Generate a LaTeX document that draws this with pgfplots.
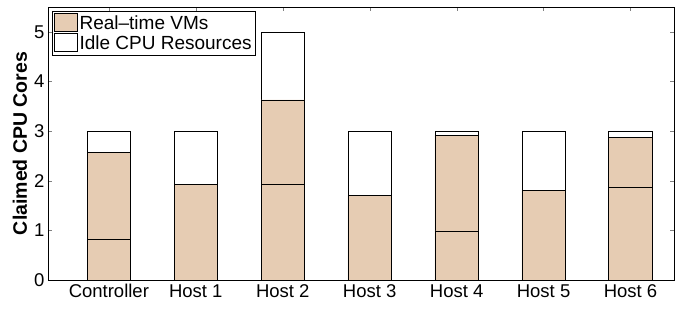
\documentclass[border=0pt]{standalone}
\usepackage{fontspec}
\setmainfont{Liberation Sans}
\usepackage{pgfplots}
\pgfplotsset{compat=1.18}
\definecolor{tan}{RGB}{230,204,179}
\begin{document}
\begin{tikzpicture}
\begin{axis}[
  scale only axis,
  width=626pt, height=273pt,
  anchor=south west, at={(0pt,0pt)},
  ybar stacked, bar width=0.5,
  xmin=0.3, xmax=7.5, ymin=0, ymax=5.5,
  xtick={1,2,3,4,5,6,7},
  xticklabels={Controller,Host 1,Host 2,Host 3,Host 4,Host 5,Host 6},
  ytick={0,1,2,3,4,5},
  tick align=inside, tick pos=both,
  major tick length=4pt,
  /pgf/number format/assume math mode=true,
  ticklabel style={font=\fontsize{18.5}{20}\selectfont},
  xticklabel style={yshift=-1pt},
  ylabel={\bfseries Claimed CPU Cores},
  ylabel style={font=\fontsize{19.5}{21}\selectfont, at={(axis description cs:-0.045,0.5)}, anchor=center},
  axis line style={line width=0.8pt},
  legend cell align=left,
  legend style={at={(0.006,0.985)}, anchor=north west, draw=black, line width=0.6pt,
    font=\fontsize{19}{21}\selectfont, inner sep=2pt, row sep=0pt,
    /tikz/every even column/.append style={column sep=2pt}},
  legend image code/.code={\draw[#1, line width=0.5pt] (0pt,-8pt) rectangle (23pt,10pt);},
]
\addplot[fill=tan, draw=black, line width=0.6pt] coordinates {(1,0.82) (2,1.92) (3,1.92) (4,1.70) (5,0.99) (6,1.81) (7,1.86)};
\addlegendentry{Real--time VMs}
\addplot[fill=tan, draw=black, line width=0.6pt, forget plot] coordinates {(1,1.75) (2,0) (3,1.71) (4,0) (5,1.93) (6,0) (7,1.02)};
\addplot[fill=white, draw=black, line width=0.6pt] coordinates {(1,0.43) (2,1.08) (3,1.37) (4,1.30) (5,0.08) (6,1.19) (7,0.12)};
\addlegendentry{Idle CPU Resources}
\end{axis}
\pgfresetboundingbox
\path[use as bounding box] (-48pt,-30pt) rectangle (638pt,280pt);
\end{tikzpicture}
\end{document}
